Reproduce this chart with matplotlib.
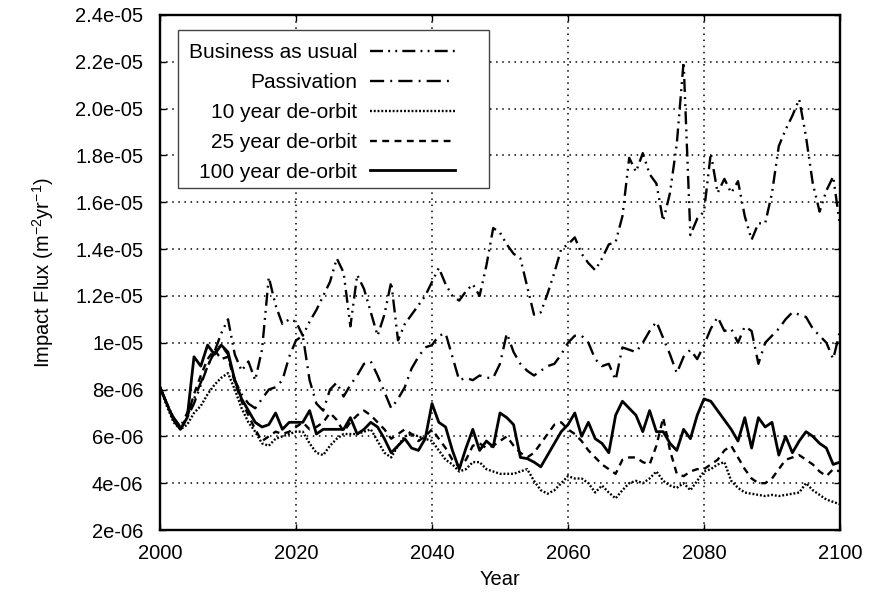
import numpy as np
import matplotlib
matplotlib.use("Agg")
import matplotlib.pyplot as plt
from matplotlib.patches import Rectangle

plt.rcParams['font.family'] = ['Liberation Sans', 'DejaVu Sans']
plt.rcParams['mathtext.fontset'] = 'custom'
plt.rcParams['mathtext.rm'] = 'Liberation Sans'

# Impact flux per scenario, in units of 1e-6 m^-2 yr^-1, one value per year
years = np.arange(2000, 2101)

business_as_usual = [
    8.1, 7.4, 6.8, 6.4, 6.8, 7.4, 8.2, 9.0, 9.6, 10.4,
    11.0, 9.5, 8.8, 9.2, 8.4, 9.7, 12.8, 11.6, 10.8, 11.0,
    10.9, 10.3, 10.9, 11.4, 12.0, 12.6, 13.6, 13.0, 10.7, 12.9,
    12.3, 11.3, 10.3, 11.2, 12.6, 10.1, 10.8, 11.2, 11.6, 12.0,
    12.6, 13.2, 12.5, 12.0, 11.8, 12.2, 12.5, 12.0, 13.3, 14.9,
    14.7, 14.2, 13.8, 13.6, 12.4, 11.2, 11.3, 12.1, 13.0, 14.0,
    14.2, 14.5, 13.8, 13.4, 13.1, 13.6, 14.2, 14.3, 15.4, 17.9,
    17.3, 18.1, 17.2, 16.8, 15.2, 16.4, 18.5, 22.0, 14.6, 15.3,
    15.6, 18.1, 16.4, 17.0, 16.4, 16.9, 15.4, 14.4, 15.1, 15.1,
    16.4, 18.4, 19.1, 19.7, 20.4, 18.8, 16.8, 15.6, 16.5, 17.1,
    15.0]

passivation = [
    8.1, 7.4, 6.8, 6.4, 7.0, 7.6, 8.3, 9.0, 9.6, 9.9,
    9.5, 8.4, 7.8, 7.4, 7.2, 7.6, 8.0, 8.1, 8.4, 9.4,
    10.1, 10.3, 8.4, 7.4, 7.1, 8.0, 8.3, 7.7, 8.2, 8.6,
    9.1, 9.2, 8.6, 7.9, 7.2, 7.6, 8.1, 8.9, 9.4, 9.8,
    9.9, 10.3, 10.4, 9.4, 8.4, 8.5, 8.4, 8.6, 8.5, 8.5,
    9.1, 10.4, 9.6, 9.1, 8.8, 8.6, 8.8, 9.0, 9.1, 9.5,
    10.0, 10.3, 10.3, 10.0, 9.3, 9.0, 9.1, 8.4, 9.8, 9.7,
    9.6, 10.0, 10.5, 10.9, 10.2, 9.5, 8.7, 9.4, 9.7, 9.3,
    9.9, 10.6, 11.1, 10.5, 10.6, 10.0, 10.7, 10.5, 9.1, 10.0,
    10.3, 10.6, 11.0, 11.3, 11.2, 11.1, 10.6, 10.3, 10.0, 9.3,
    10.5]

deorbit_10 = [
    8.1, 7.3, 6.6, 6.3, 6.5, 7.0, 7.3, 7.8, 8.2, 8.5,
    8.7, 8.0, 7.2, 6.6, 6.2, 5.7, 5.6, 5.9, 6.0, 6.1,
    6.2, 6.2, 5.7, 5.3, 5.2, 5.6, 5.9, 6.1, 6.1, 6.1,
    6.2, 6.3, 5.8, 5.3, 5.1, 5.6, 6.0, 6.1, 6.0, 5.9,
    5.8, 5.4, 5.0, 4.8, 4.5, 4.6, 4.9, 4.9, 4.6, 4.5,
    4.4, 4.4, 4.4, 4.5, 4.6, 4.1, 3.7, 3.55, 3.7, 4.0,
    4.3, 4.2, 4.2, 4.0, 3.6, 3.9, 3.6, 3.35, 3.7, 4.0,
    4.1, 4.0, 4.2, 4.5, 4.1, 3.9, 3.8, 4.0, 3.7, 4.1,
    4.5, 4.6, 4.8, 4.9, 4.1, 3.8, 3.6, 3.55, 3.5, 3.45,
    3.5, 3.45, 3.5, 3.55, 3.6, 4.0, 3.7, 3.5, 3.3, 3.2,
    3.1]

deorbit_25 = [
    8.1, 7.4, 6.7, 6.3, 6.8, 7.8, 8.6, 9.3, 9.7, 9.3,
    9.4, 8.3, 7.5, 6.9, 6.3, 5.8, 6.0, 6.2, 6.1, 6.2,
    6.4, 6.6, 6.3, 6.4, 6.6, 7.0, 6.7, 6.2, 6.6, 6.9,
    7.1, 6.9, 6.6, 6.3, 5.9, 6.1, 6.3, 6.1, 5.8, 6.0,
    6.3, 5.9, 5.5, 5.0, 4.7, 5.0, 5.6, 5.7, 5.5, 5.6,
    5.8, 6.0, 5.6, 5.3, 5.1, 5.3, 5.7, 6.1, 6.5, 6.6,
    6.3, 6.1, 5.8, 5.4, 5.1, 4.8, 4.6, 4.4, 5.0, 5.1,
    5.1, 4.9, 4.8, 5.6, 6.8, 5.4, 4.4, 4.3, 4.5, 4.6,
    4.6, 4.8, 5.0, 5.4, 5.6, 5.1, 4.6, 4.2, 4.0, 4.0,
    4.2, 4.6, 5.0, 5.1, 5.2, 5.0, 4.8, 4.5, 4.3, 4.6,
    4.5]

deorbit_100 = [
    8.1, 7.4, 6.7, 6.3, 6.8, 9.4, 9.0, 9.9, 9.5, 9.9,
    9.6, 8.4, 7.6, 7.1, 6.6, 6.4, 6.5, 7.0, 6.3, 6.6,
    6.6, 6.6, 7.1, 6.1, 6.3, 6.3, 6.3, 6.3, 6.8, 6.1,
    6.3, 6.6, 6.4, 5.9, 5.3, 5.6, 5.9, 5.5, 5.4, 5.9,
    7.4, 6.6, 6.4, 5.4, 4.6, 5.5, 6.3, 5.4, 5.8, 5.55,
    7.0, 6.8, 6.5, 5.1, 5.05, 4.9, 4.7, 5.2, 5.7, 6.2,
    6.5, 7.0, 6.0, 6.6, 5.9, 5.7, 5.3, 6.9, 7.5, 7.2,
    6.9, 6.2, 7.1, 6.2, 6.2, 5.7, 5.4, 6.3, 5.9, 6.9,
    7.6, 7.5, 7.1, 6.7, 6.3, 5.8, 6.8, 5.5, 6.8, 6.4,
    6.6, 5.2, 6.0, 5.3, 5.8, 6.2, 6.0, 5.7, 5.5, 4.8,
    4.9]

labels = ["Business as usual", "Passivation", "10 year de-orbit",
          "25 year de-orbit", "100 year de-orbit"]

x_ticks = [2000, 2020, 2040, 2060, 2080, 2100]
y_ticks = [2e-06, 4e-06, 6e-06, 8e-06, 1e-05, 1.2e-05, 1.4e-05, 1.6e-05,
           1.8e-05, 2.0e-05, 2.2e-05, 2.4e-05]
y_tick_labels = ["2e-06", "4e-06", "6e-06", "8e-06", "1e-05", "1.2e-05",
                 "1.4e-05", "1.6e-05", "1.8e-05", "2.0e-05", "2.2e-05",
                 "2.4e-05"]

scale = 1e-6
series = [business_as_usual, passivation, deorbit_10, deorbit_25, deorbit_100]
styles = [
    dict(linestyle=(0, (5.5, 2.2, 0.8, 2.2, 0.8, 2.2)), linewidth=1.7),
    dict(linestyle=(0, (6.0, 2.6, 0.8, 2.6)), linewidth=1.7),
    dict(linestyle=(0, (0.8, 0.8)), linewidth=1.7),
    dict(linestyle=(0, (2.9, 2.3)), linewidth=1.7),
    dict(linestyle='-', linewidth=2.0),
]

fig = plt.figure(figsize=(8.69, 5.97), dpi=100)
ax = fig.add_axes([160 / 869, 1 - 530 / 597, 680 / 869, 515 / 597])

for vals, lab, st in zip(series, labels, styles):
    ax.plot(years, np.array(vals) * scale, color='black', label=lab, **st)

ax.set_xlim(2000, 2100)
ax.set_ylim(2e-06, 2.4e-05)
ax.set_xticks(x_ticks)
ax.set_xticklabels([str(t) for t in x_ticks])
ax.set_yticks(y_ticks)
ax.set_yticklabels(y_tick_labels)

ax.grid(True, color='black', linestyle=(0, (1, 3)), linewidth=1.1)
for sp in ax.spines.values():
    sp.set_linewidth(1.7)
ax.tick_params(direction='in', length=4, width=1.0, top=True, right=True,
               labelsize=14.5, pad=10, colors='black')
ax.tick_params(axis='y', pad=12)

ax.set_xlabel("Year", fontsize=14.5, labelpad=5)
ax.set_ylabel(r"Impact Flux (m$^{\mathregular{-2}}$yr$^{\mathregular{-1}}$)",
              fontsize=14.5, labelpad=14)

# Legend box frame
frame = Rectangle((0.0265, 0.664), 0.4575, 0.307, transform=ax.transAxes,
                  facecolor='white', edgecolor='#444444', linewidth=1.0,
                  zorder=4)
ax.add_patch(frame)

leg = ax.legend(loc='upper left', bbox_to_anchor=(0.03, 0.961),
                borderaxespad=0, markerfirst=False, fontsize=15,
                handlelength=4.1, handletextpad=0.6, labelspacing=0.52,
                borderpad=0.4, frameon=False)
leg.set_zorder(5)

fig.savefig("out.png", dpi=100, facecolor='white')
